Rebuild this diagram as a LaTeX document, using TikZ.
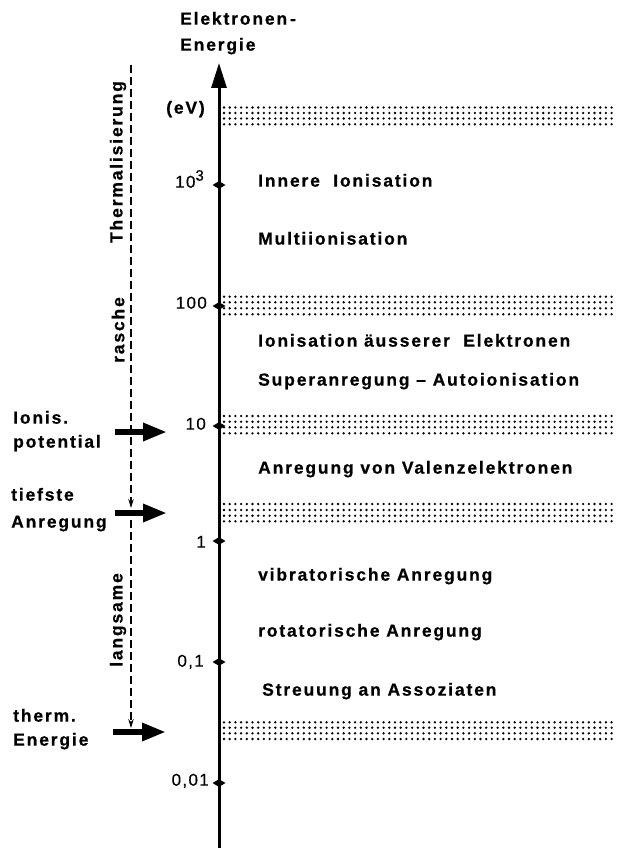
\documentclass[tikz,border=0pt]{standalone}
\usepackage{fontspec}
\setmainfont{Liberation Sans}
\newfontfamily\lblfont[LetterSpace=10.5, BoldFeatures={FakeBold=0.6}]{Liberation Sans}
\newfontfamily\numfont[LetterSpace=8, FakeBold=0.4]{Liberation Sans}
\usetikzlibrary{arrows.meta}
\tikzset{
  lbl/.style={font=\lblfont\bfseries\fontsize{17.5}{19}\selectfont, inner sep=0pt, anchor=mid west},
  vlbl/.style={font=\lblfont\bfseries\fontsize{17.5}{19}\selectfont, inner sep=0pt, rotate=90},
  num/.style={font=\numfont\fontsize{17}{19}\selectfont, inner sep=0pt, anchor=mid east},
  dotrow/.style={line width=2.6pt, dash pattern=on 0pt off 5.7pt, line cap=round},
  axisline/.style={line width=3pt, -{Triangle[length=25pt,width=15pt]}},
  bigarrow/.style={line width=6.5pt, -{Triangle[length=24pt,width=17pt]}},
  dasharrow/.style={line width=1.1pt, dash pattern=on 8pt off 4pt, -{Stealth[length=9pt,width=5.5pt]}},
  tickmark/.style={fill=black}
}
\begin{document}
\begin{tikzpicture}[x=1pt,y=-1pt]
\useasboundingbox (0,0) rectangle (616,848);
% axis
\coordinate (axbot) at (219,848);
\coordinate (axtop) at (219,63);
\draw[axisline] (axbot) -- (axtop);
\node[lbl] (ytitle1) at (180,22) {Elektronen\,-};
\node[lbl] (ytitle2) at (180,48) {Energie};
\node[lbl, anchor=mid east] (unit) at (205,111) {(eV)};
% ticks
\foreach \yy/\nm in {185/t3,306/t2,426/t1,541/t0,662/tm1,783/tm2}{
  \fill[tickmark] (212.5,\yy) -- (219,\yy-3.8) -- (225.5,\yy) -- (219,\yy+3.8) -- cycle;
  \coordinate (\nm) at (219,\yy);
}
\node[num] (n3) at (204,185) {10\raisebox{7pt}{\fontsize{15}{16}\selectfont 3}};
\node[num] (n2) at (207,306) {100};
\node[num] (n1) at (206,427) {10};
\node[num] (n0) at (206,545) {1};
\node[num] (nm1) at (204,664) {0,1};
\node[num] (nm2) at (209,783) {0,01};
% dotted bands
\foreach \yy in {107.5,113,118.5,124.3, 296.7,302.3,308.3,314.3, 416,421.7,427.3,433.3, 504,510,515.7,521.3, 722.3,727.7,733.3,739}{
  \draw[dotrow] (224,\yy) -- (616,\yy);
}
% right labels
\node[lbl] (l1) at (258,184) {Innere\ \ Ionisation};
\node[lbl] (l2) at (258,242) {Multiionisation};
\node[lbl] (l3) at (258,344) {Ionisation äusserer\ \ Elektronen};
\node[lbl] (l4) at (258,383) {Superanregung\ –\ Autoionisation};
\node[lbl] (l5) at (258,471) {Anregung von Valenzelektronen};
\node[lbl] (l6) at (258,578) {vibratorische Anregung};
\node[lbl] (l7) at (258,634) {rotatorische Anregung};
\node[lbl] (l8) at (262,693) {Streuung an Assoziaten};
% left labels
\node[lbl] (a1) at (13,421) {Ionis.};
\node[lbl] (a2) at (13,445) {potential};
\node[lbl] (b1) at (11,498) {tiefste};
\node[lbl] (b2) at (11,525) {Anregung};
\node[lbl] (c1) at (13,719) {therm.};
\node[lbl] (c2) at (13,743) {Energie};
% big arrows
\coordinate (ia) at (115,432);
\coordinate (ib) at (167,432);
\coordinate (ta) at (115,513);
\coordinate (tb) at (167,513);
\coordinate (ea) at (113,732);
\coordinate (eb) at (166,732);
\draw[bigarrow] (ia) -- (ib);
\draw[bigarrow] (ta) -- (tb);
\draw[bigarrow] (ea) -- (eb);
% dashed thermalisation line
\coordinate (d1) at (131,65);
\coordinate (d2) at (131,508);
\coordinate (d3) at (131,520);
\coordinate (d4) at (131,728);
\draw[dasharrow] (d1) -- (d2);
\draw[dasharrow] (d3) -- (d4);
\node[vlbl] (v1) at (118,162) {Thermalisierung};
\node[vlbl] (v2) at (118,330) {rasche};
\node[vlbl] (v3) at (118,620) {langsame};
\end{tikzpicture}
\end{document}
